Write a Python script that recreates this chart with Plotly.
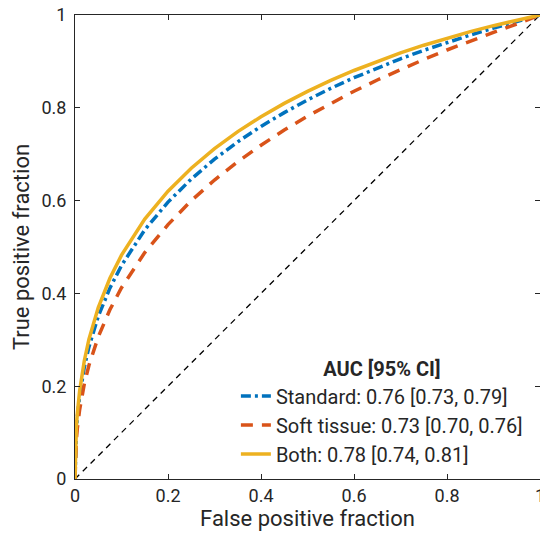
import plotly.graph_objects as go

# False positive fraction grid (read positions along the x axis)
fpf = [0, 0.001, 0.003, 0.005, 0.01, 0.02, 0.03, 0.05, 0.075, 0.1, 0.15, 0.2, 0.25,
       0.3, 0.35, 0.4, 0.45, 0.5, 0.55, 0.6, 0.65, 0.7, 0.75, 0.8, 0.85, 0.9,
       0.95, 0.98, 0.99, 1.0]

# True positive fraction
tpf_standard = [0, 0.0649, 0.106, 0.1329, 0.1796, 0.2407, 0.2847, 0.3505, 0.4114,
                0.4602, 0.537, 0.5968, 0.6465, 0.6893, 0.7267, 0.7599, 0.7896,
                0.817, 0.842, 0.8648, 0.8859, 0.9056, 0.9239, 0.941, 0.9568,
                0.9718, 0.9858, 0.994, 0.9968, 1.0]
tpf_soft = [0, 0.0511, 0.0858, 0.1088, 0.1496, 0.2047, 0.2451, 0.3064, 0.3647,
            0.4122, 0.488, 0.5482, 0.5999, 0.6443, 0.6837, 0.7194, 0.7521,
            0.782, 0.8098, 0.8357, 0.8599, 0.8826, 0.9041, 0.9246, 0.9439,
            0.9625, 0.9805, 0.9914, 0.9953, 1.0]
tpf_both = [0, 0.0689, 0.113, 0.1414, 0.1905, 0.2549, 0.3012, 0.3696, 0.4325,
            0.4825, 0.56, 0.6202, 0.6697, 0.7119, 0.7486, 0.7808, 0.8095,
            0.8355, 0.859, 0.8804, 0.9001, 0.9182, 0.9349, 0.9501, 0.9641,
            0.977, 0.9888, 0.9955, 0.9977, 1.0]

chance_x = [0, 1]
chance_y = [0, 1]

series_names = ["Standard: 0.76 [0.73, 0.79]",
                "Soft tissue: 0.73 [0.70, 0.76]",
                "Both: 0.78 [0.74, 0.81]"]

tick_vals = [0, 0.2, 0.4, 0.6, 0.8, 1]
tick_text = ["0", "0.2", "0.4", "0.6", "0.8", "1"]

FONT = "Roboto"
TXT = "#262626"

fig = go.Figure()
fig.add_trace(go.Scatter(x=chance_x, y=chance_y, mode="lines", showlegend=False,
                         line=dict(color="black", width=1.3, dash="6px,5px"),
                         hoverinfo="skip"))
fig.add_trace(go.Scatter(x=fpf, y=tpf_standard, mode="lines", name=series_names[0],
                         line=dict(color="#0072BD", width=3.5, dash="10px,4px,3px,4px")))
fig.add_trace(go.Scatter(x=fpf, y=tpf_soft, mode="lines", name=series_names[1],
                         line=dict(color="#D95319", width=3.5, dash="12px,9px")))
fig.add_trace(go.Scatter(x=fpf, y=tpf_both, mode="lines", name=series_names[2],
                         line=dict(color="#EDB120", width=3.5)))

axis_common = dict(
    range=[0, 1], tickvals=tick_vals, ticktext=tick_text,
    ticks="inside", ticklen=5, tickwidth=1, tickcolor=TXT,
    showline=True, linecolor=TXT, linewidth=1, mirror="ticks",
    showgrid=False, zeroline=False, automargin=False,
    ticklabeloverflow="allow",
    tickfont=dict(family=FONT, size=18, color=TXT),
)

fig.update_layout(
    width=540, height=535,
    margin=dict(l=75, r=0, t=15, b=56),
    paper_bgcolor="white", plot_bgcolor="white",
    font=dict(family=FONT, color=TXT),
    xaxis=dict(**axis_common, ticklabelstandoff=0,
               title=dict(text="False positive fraction",
                          font=dict(family=FONT, size=22, color=TXT), standoff=4)),
    yaxis=dict(**axis_common, ticklabelstandoff=4,
               title=dict(text="True positive fraction",
                          font=dict(family=FONT, size=22, color=TXT), standoff=5)),
    legend=dict(
        title=dict(text="<b>AUC [95% CI]</b>", side="top center",
                   font=dict(family=FONT, size=20, color=TXT)),
        font=dict(family=FONT, size=20, color=TXT),
        x=0.346, xanchor="left", y=0.012, yanchor="bottom",
        bgcolor="rgba(0,0,0,0)", borderwidth=0,
    ),
)

fig.write_html("out.html", config={"displayModeBar": False},
               post_script="document.body.style.margin='0';document.body.style.overflow='hidden';")
